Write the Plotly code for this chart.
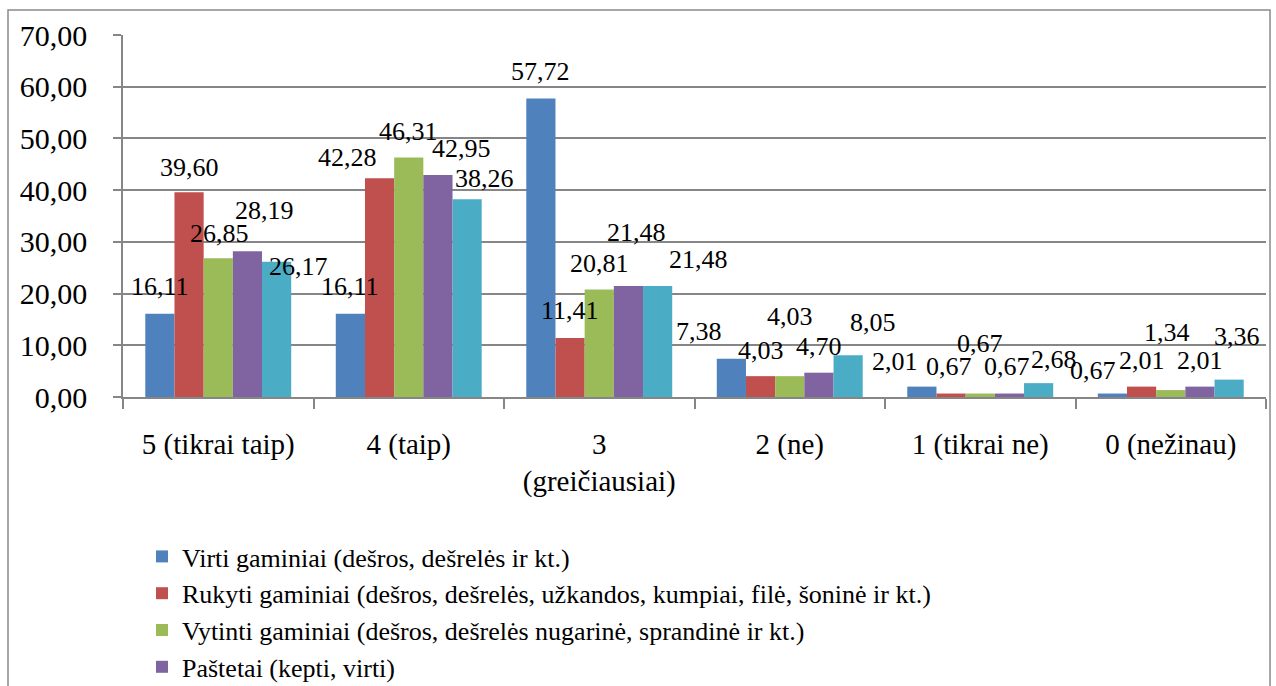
import plotly.graph_objects as go

# Categories (answer scale) and series values, %
categories = ["5 (tikrai taip)", "4 (taip)", "3<br>(greičiausiai)", "2 (ne)", "1 (tikrai ne)", "0 (nežinau)"]

series_names = [
    "Virti gaminiai (dešros, dešrelės ir kt.)",
    "Rukyti gaminiai (dešros, dešrelės, užkandos, kumpiai, filė, šoninė ir kt.)",
    "Vytinti gaminiai (dešros, dešrelės nugarinė, sprandinė ir kt.)",
    "Paštetai (kepti, virti)",
    "Kiti gaminiai",
]

virti = [16.11, 16.11, 57.72, 7.38, 2.01, 0.67]
rukyti = [39.60, 42.28, 11.41, 4.03, 0.67, 2.01]
vytinti = [26.85, 46.31, 20.81, 4.03, 0.67, 1.34]
pastetai = [28.19, 42.95, 21.48, 4.70, 0.67, 2.01]
kiti = [26.17, 38.26, 21.48, 8.05, 2.68, 3.36]

values = [virti, rukyti, vytinti, pastetai, kiti]
colors = ["#4F81BD", "#C0504D", "#9BBB59", "#8064A2", "#4BACC6"]

# Hand-placed label nudges (pixels) relative to each bar's top centre
label_dx = [
    [0, 0, 0, -32, -27, -19],
    [0, -32, 0, 0, -2, 0],
    [1, 0, 0, 0, 0, -4],
    [17, 24, 8, 0, -2, 0],
    [22, 17, 41, 25, 15, 8],
]
label_dy = [
    [-27, -27, -27, -27, -25, -23],
    [-25, -21, -27, -26, -27, -26],
    [-25, -26, -26, -60, -50, -58],
    [-41, -26, -53, -26, -27, -26],
    [5, -21, -26, -33, -24, -43],
]

FONT = '"Times New Roman", Times, "Liberation Serif", serif'
GRID = "#868686"

W, H = 1276, 686
ML, MR, MT, MB = 123, 10, 35, 289
plot_w = W - ML - MR
plot_h = H - MT - MB
BARGAP = 0.234
n_series = len(values)
bar_px = plot_w / len(categories) * (1 - BARGAP) / n_series

fig = go.Figure()
for i, (name, vals, col) in enumerate(zip(series_names, values, colors)):
    fig.add_trace(go.Bar(
        x=categories, y=vals, name=name,
        marker=dict(color=col, line=dict(width=0)),
        showlegend=(i < 4),
        hoverinfo="skip",
    ))

annotations = []
for i, vals in enumerate(values):
    for j, v in enumerate(vals):
        annotations.append(dict(
            x=categories[j], y=v, xref="x", yref="y",
            text=f"{v:.2f}".replace(".", ","),
            showarrow=False,
            xshift=(i - (n_series - 1) / 2) * bar_px + label_dx[i][j],
            yshift=-label_dy[i][j],
            font=dict(family=FONT, size=26, color="black"),
            xanchor="center", yanchor="middle",
        ))

# Outer chart frame
shapes = [dict(
    type="rect", xref="paper", yref="paper",
    x0=(8 - ML) / plot_w, x1=(1270 - ML) / plot_w,
    y0=(H - MB - 720) / plot_h, y1=(H - MB - 10) / plot_h,
    line=dict(color="#8a8a8a", width=1.5), fillcolor="rgba(0,0,0,0)", layer="below",
)]

fig.update_layout(
    width=W, height=H,
    margin=dict(l=ML, r=MR, t=MT, b=MB, autoexpand=False),
    paper_bgcolor="white", plot_bgcolor="white",
    barmode="group", bargap=BARGAP, bargroupgap=0,
    separators=",.",
    font=dict(family=FONT, color="black"),
    annotations=annotations,
    shapes=shapes,
    legend=dict(
        x=(142 - ML) / plot_w, y=(H - MB - 533) / plot_h,
        xanchor="left", yanchor="top",
        font=dict(family=FONT, size=26, color="black"),
        bgcolor="rgba(0,0,0,0)", tracegroupgap=0, itemwidth=30,
    ),
    xaxis=dict(
        showgrid=False, showline=True, linecolor=GRID, linewidth=1.5,
        ticks="outside", tickson="boundaries", ticklen=10, tickcolor=GRID, tickwidth=1.5,
        tickfont=dict(family=FONT, size=29, color="black"),
        ticklabelstandoff=20,
    ),
    yaxis=dict(
        range=[0, 70], dtick=10, tickformat=".2f",
        showgrid=True, gridcolor=GRID, gridwidth=1.5,
        showline=True, linecolor=GRID, linewidth=1.5,
        ticks="outside", ticklen=8, tickcolor=GRID, tickwidth=1.5,
        tickfont=dict(family=FONT, size=30, color="black"),
        ticklabelstandoff=20, zeroline=False,
    ),
)

fig.write_html("out.html")
